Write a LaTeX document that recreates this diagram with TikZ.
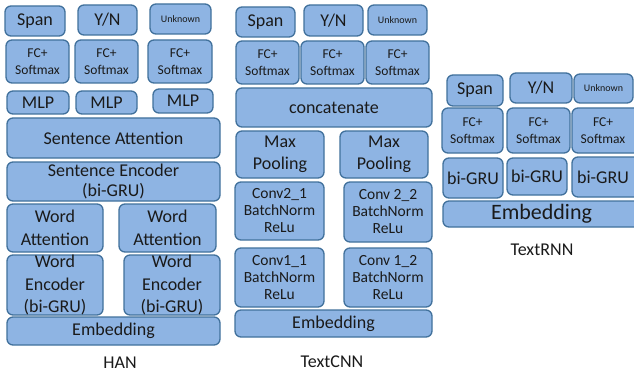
\documentclass[tikz,border=0pt]{standalone}
\usepackage{fontspec}
\setmainfont{Carlito}
\definecolor{fillc}{HTML}{8EB4E3}
\definecolor{bordc}{HTML}{41719C}
\definecolor{txtc}{HTML}{1A1A1A}
\newcommand\fs[2]{\fontsize{#1}{#2}\selectfont}
\newcommand\bx[7]{%
 \pgfmathsetmacro\bw{#4-#2}\pgfmathsetmacro\bh{#5-#3}%
 \pgfmathsetmacro\cx{(#2+#4)/2}\pgfmathsetmacro\cy{(#3+#5)/2}%
 \node[box,font=#7,minimum width=\bw pt,minimum height=\bh pt] (#1) at (\cx,\cy) {#6};}
\tikzset{
 box/.style={draw=bordc,fill=fillc,rounded corners=6pt,line width=1.3pt,
   align=center,inner sep=0pt,text=txtc},
 lbl/.style={text=txtc,font=\fs{18}{22},inner sep=0pt}
}
\begin{document}
\begin{tikzpicture}[x=1pt,y=-1pt]
\clip (0,0) rectangle (634,377);
\fill[white] (0,0) rectangle (634,377);
% HAN
\bx{spanA}{5}{6}{65}{36}{Span}{\fs{18}{22}}
\bx{ynA}{78}{5}{137}{35}{Y/N}{\fs{18}{22}}
\bx{unkA}{150}{4}{211}{34}{Unknown}{\fs{10}{12}}
\bx{fcAa}{6}{40}{69}{83}{FC+\\Softmax}{\fs{13.5}{17}}
\bx{fcAb}{75}{40}{138}{83}{FC+\\Softmax}{\fs{13.5}{17}}
\bx{fcAc}{148}{40}{212}{83}{FC+\\Softmax}{\fs{13.5}{17}}
\bx{mlpAa}{7}{91}{69}{114}{MLP}{\fs{18}{22}}
\bx{mlpAb}{76}{91}{137}{114}{MLP}{\fs{18}{22}}
\bx{mlpAc}{153}{89}{213}{113}{MLP}{\fs{18}{22}}
\bx{sattA}{7}{118}{220}{158}{Sentence Attention}{\fs{18}{22}}
\bx{sencA}{7}{162}{220}{201}{Sentence Encoder\\(bi-GRU)}{\fs{18}{20}}
\bx{wattAa}{7}{204}{103}{252}{Word\\Attention}{\fs{18}{23}}
\bx{wattAb}{119}{204}{216}{252}{Word\\Attention}{\fs{18}{23}}
\bx{wencAa}{7}{255}{103}{315}{Word\\Encoder\\(bi-GRU)}{\fs{18}{22.5}}
\bx{wencAb}{124}{255}{220}{315}{Word\\Encoder\\(bi-GRU)}{\fs{18}{22.5}}
\bx{embA}{7}{317}{220}{345}{Embedding}{\fs{18}{22}}
\node[lbl] (han) at (120,363) {HAN};
% TextCNN
\bx{spanB}{236}{7}{295}{37}{Span}{\fs{18}{22}}
\bx{ynB}{304}{5}{363}{36}{Y/N}{\fs{18}{22}}
\bx{unkB}{368}{5}{427}{35}{Unknown}{\fs{10}{12}}
\bx{fcBa}{236}{41}{299}{84}{FC+\\Softmax}{\fs{13.5}{17}}
\bx{fcBb}{301}{41}{364}{84}{FC+\\Softmax}{\fs{13.5}{17}}
\bx{fcBc}{366}{41}{429}{84}{FC+\\Softmax}{\fs{13.5}{17}}
\bx{catB}{236}{88}{432}{127}{concatenate}{\fs{18}{22}}
\bx{mpBa}{236}{131}{324}{178}{Max\\Pooling}{\fs{18}{22}}
\bx{mpBb}{340}{131}{428}{178}{Max\\Pooling}{\fs{18}{22}}
\bx{cvBa}{235}{182}{324}{240}{Conv2\_1\\BatchNorm\\ReLu}{\fs{15.5}{17}}
\bx{cvBb}{344}{182}{432}{242}{Conv 2\_2\\BatchNorm\\ReLu}{\fs{15.5}{17}}
\bx{cvBc}{235}{248}{324}{307}{Conv1\_1\\BatchNorm\\ReLu}{\fs{15.5}{17}}
\bx{cvBd}{344}{248}{432}{307}{Conv 1\_2\\BatchNorm\\ReLu}{\fs{15.5}{17}}
\bx{embB}{235}{310}{432}{337}{Embedding}{\fs{18}{22}}
\node[lbl] (cnn) at (332,362) {TextCNN};
% TextRNN
\bx{spanC}{447}{75}{503}{106}{Span}{\fs{18}{22}}
\bx{ynC}{510}{73}{572}{103}{Y/N}{\fs{18}{22}}
\bx{unkC}{574}{74}{633}{103}{Unknown}{\fs{10}{12}}
\bx{fcCa}{442}{108}{503}{153}{FC+\\Softmax}{\fs{13.5}{17}}
\bx{fcCb}{507}{108}{570}{153}{FC+\\Softmax}{\fs{13.5}{17}}
\bx{fcCc}{572}{108}{640}{153}{\hspace*{-6pt}FC+\\\hspace*{-6pt}Softmax}{\fs{13.5}{17}}
\bx{gruCa}{443}{158}{503}{198}{bi-GRU}{\fs{18}{22}}
\bx{gruCb}{507}{158}{567}{195}{bi-GRU}{\fs{18}{22}}
\bx{gruCc}{572}{157}{640}{197}{\hspace*{-6pt}bi-GRU}{\fs{18}{22}}
\bx{embC}{443}{201}{640}{227}{Embedding}{\fs{22}{26}}
\node[lbl] (rnn) at (542,250) {TextRNN};
\end{tikzpicture}
\end{document}
